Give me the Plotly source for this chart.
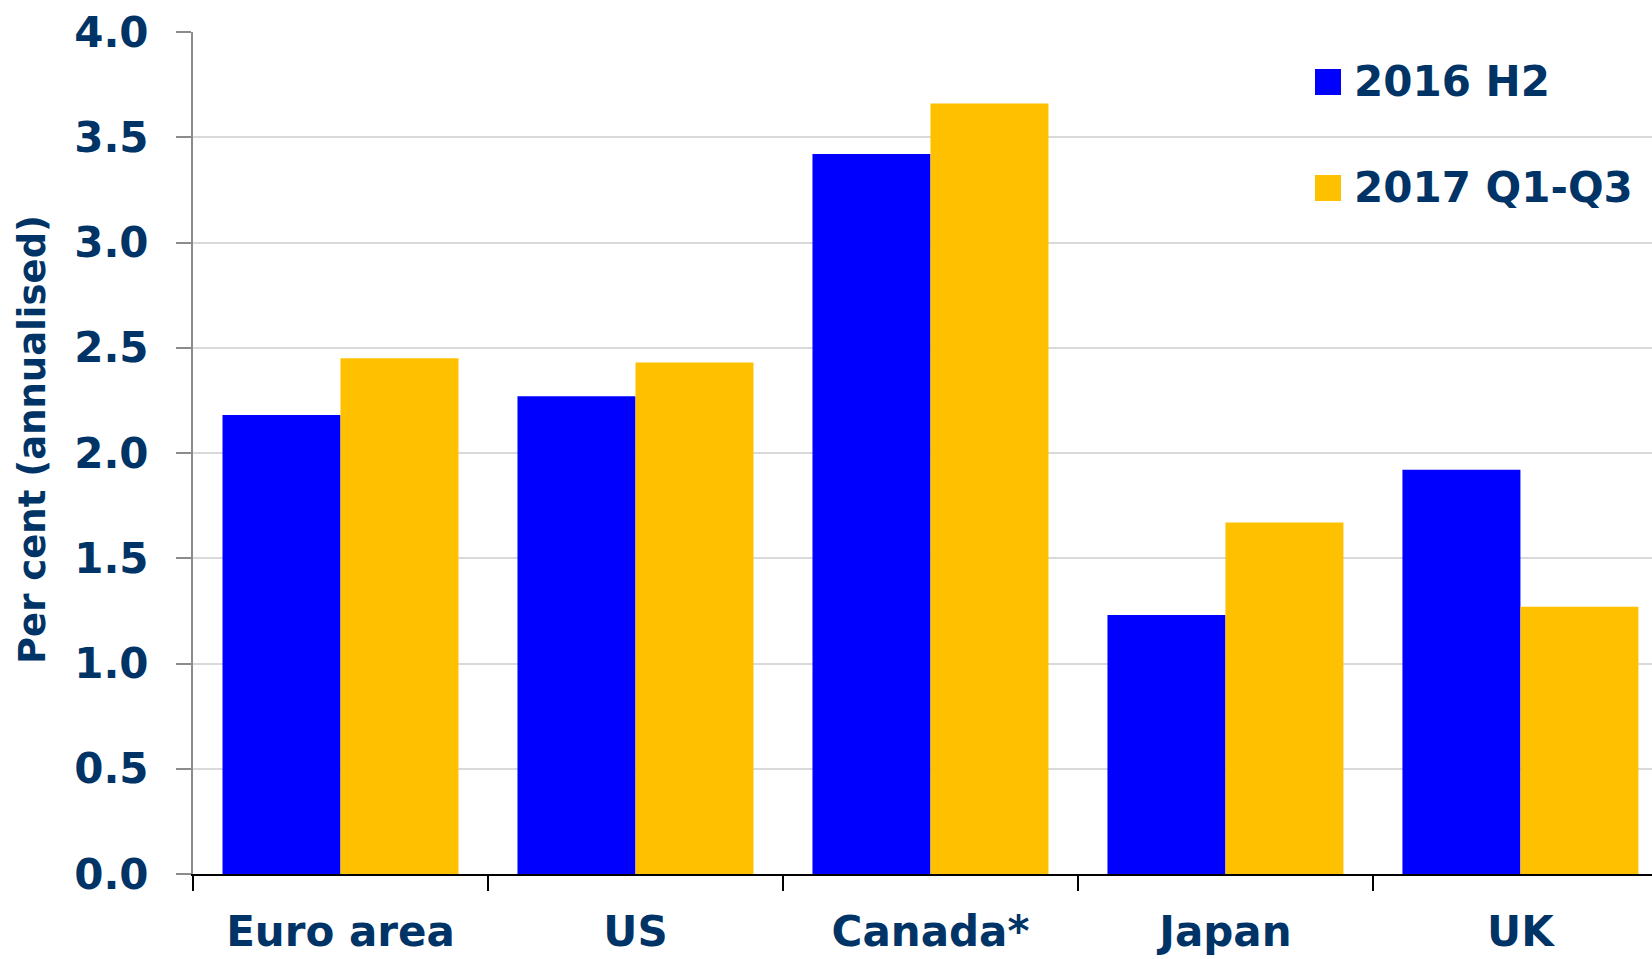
import plotly.graph_objects as go

categories = ["Euro area", "US", "Canada*", "Japan", "UK"]
series_names = ["2016 H2", "2017 Q1-Q3"]
h2_2016 = [2.18, 2.27, 3.42, 1.23, 1.92]
q1q3_2017 = [2.45, 2.43, 3.66, 1.67, 1.27]
y_ticks = [0.0, 0.5, 1.0, 1.5, 2.0, 2.5, 3.0, 3.5, 4.0]
y_tick_labels = ["0.0", "0.5", "1.0", "1.5", "2.0", "2.5", "3.0", "3.5", "4.0"]
colors = ["#0000FF", "#FFC000"]
text_color = "#003366"
font_family = "DejaVu Sans"

W, H = 1652, 959
ml, mt, mb, mr = 193, 32, 85, 0
pw, ph = W - ml - mr, H - mt - mb

fig = go.Figure()
for name, vals, col in zip(series_names, [h2_2016, q1q3_2017], colors):
    fig.add_trace(go.Bar(x=categories, y=vals, name=name, marker=dict(color=col, line=dict(width=0)),
                         showlegend=False))

def px_x(px):
    return (px - ml) / pw

def px_y(py):
    return (H - mb - py) / ph

shapes = []
annotations = []
legend_rows = [82, 188]
for name, col, cy in zip(series_names, colors, legend_rows):
    shapes.append(dict(type="rect", xref="paper", yref="paper",
                       x0=px_x(1315), x1=px_x(1341), y0=px_y(cy + 13), y1=px_y(cy - 13),
                       fillcolor=col, line=dict(width=0)))
    annotations.append(dict(text=f"<b>{name}</b>", xref="paper", yref="paper", x=px_x(1352), y=px_y(cy),
                            xanchor="left", yanchor="middle", showarrow=False,
                            font=dict(family=font_family, size=42, color=text_color)))

annotations.append(dict(text="<b>Per cent (annualised)</b>", xref="paper", yref="paper",
                        x=px_x(33), y=px_y(440), xanchor="center", yanchor="middle",
                        textangle=-90, showarrow=False,
                        font=dict(family=font_family, size=37, color=text_color)))

fig.update_layout(
    width=W, height=H,
    margin=dict(l=ml, r=mr, t=mt, b=mb, pad=0),
    plot_bgcolor="white", paper_bgcolor="white",
    barmode="group", bargap=0.2, bargroupgap=0,
    shapes=shapes, annotations=annotations,
    showlegend=False,
)
fig.update_xaxes(
    range=[-0.5, 4.446], tickson="boundaries", ticks="outside", ticklen=15, tickwidth=2,
    tickcolor="#000000", showline=True, linecolor="#000000", linewidth=2,
    showgrid=False, ticklabelstandoff=20,
    tickprefix="<b>", ticksuffix="</b>",
    tickfont=dict(family=font_family, size=42, color=text_color),
)
fig.update_yaxes(
    range=[0, 4], tickvals=y_ticks, ticktext=[f"<b>{t}</b>" for t in y_tick_labels],
    ticks="outside", ticklen=15, tickwidth=2,
    tickcolor="#8c8c8c", showline=True, linecolor="#8c8c8c", linewidth=2,
    showgrid=True, gridcolor="#d9d9d9", gridwidth=1.5, zeroline=False,
    ticklabelstandoff=19,
    tickfont=dict(family=font_family, size=42, color=text_color),
)

fig.write_html("out.html")
